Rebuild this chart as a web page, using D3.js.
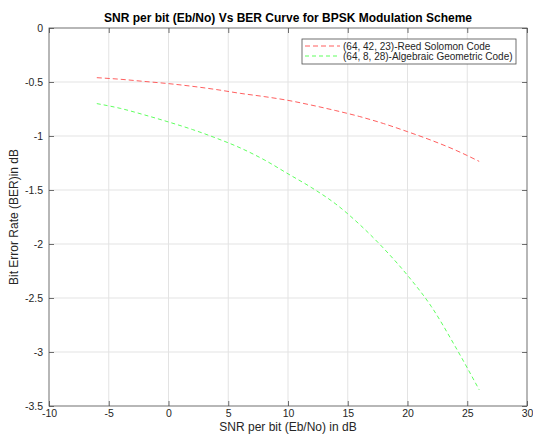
<!DOCTYPE html>
<html><head><meta charset="utf-8">
<script src="https://cdn.jsdelivr.net/npm/d3@7"></script>
<style>body{margin:0;background:#fff}svg{display:block}text{font-family:"Liberation Sans",Arial,Helvetica,sans-serif}</style>
</head><body><svg id="c" width="533" height="434"></svg>
<script>
const snr = [-6,-4,-2,0,2,4,6,8,10,12,14,16,18,20,22,24,26];
const berRS = [-0.46,-0.475,-0.495,-0.515,-0.54,-0.57,-0.605,-0.635,-0.67,-0.715,-0.765,-0.82,-0.885,-0.96,-1.04,-1.13,-1.235];
const berAG = [-0.70,-0.745,-0.805,-0.87,-0.94,-1.02,-1.11,-1.22,-1.35,-1.48,-1.63,-1.82,-2.04,-2.29,-2.58,-2.95,-3.35];
const xTicks = [-10,-5,0,5,10,15,20,25,30];
const yTicks = [0,-0.5,-1,-1.5,-2,-2.5,-3,-3.5];
const seriesNames = ["(64, 42, 23)-Reed Solomon Code","(64, 8, 28)-Algebraic Geometric Code)"];
const titleText = "SNR per bit (Eb/No) Vs BER Curve for BPSK Modulation Scheme";
const xLabel = "SNR per bit (Eb/No) in dB";
const yLabel = "Bit Error Rate (BER)in dB";

const L=49,R=527,T=28,B=406;
const svg=d3.select("#c");
const x=d3.scaleLinear().domain([-10,30]).range([L,R]);
const y=d3.scaleLinear().domain([-3.5,0]).range([B,T]);
const axisCol="#4d4d4d", textCol="#262626";

// grid
const g=svg.append("g");
g.selectAll(".gx").data(xTicks.slice(1,-1)).enter().append("line")
 .attr("x1",d=>x(d)).attr("x2",d=>x(d)).attr("y1",T).attr("y2",B)
 .attr("stroke","#e3e3e3").attr("stroke-width",1);
g.selectAll(".gy").data(yTicks.slice(1,-1)).enter().append("line")
 .attr("y1",d=>y(d)).attr("y2",d=>y(d)).attr("x1",L).attr("x2",R)
 .attr("stroke","#e3e3e3").attr("stroke-width",1);

// axes
function styleAxis(sel){
  sel.select(".domain").remove();
  sel.selectAll(".tick line").attr("stroke",axisCol).attr("stroke-width",0.8);
  sel.selectAll(".tick text").attr("fill",textCol).style("font-size","10.5px");
}
svg.append("g").attr("transform",`translate(0,${B})`)
 .call(d3.axisBottom(x).tickValues(xTicks).tickSize(-5).tickPadding(4).tickFormat(d=>String(d)))
 .call(styleAxis);
svg.append("g").attr("transform",`translate(0,${T})`)
 .call(d3.axisTop(x).tickValues(xTicks).tickSize(-5).tickFormat(""))
 .call(styleAxis);
svg.append("g").attr("transform",`translate(${L},0)`)
 .call(d3.axisLeft(y).tickValues(yTicks).tickSize(-5).tickPadding(6).tickFormat(d=>String(d)))
 .call(styleAxis);
svg.append("g").attr("transform",`translate(${R},0)`)
 .call(d3.axisRight(y).tickValues(yTicks).tickSize(-5).tickFormat(""))
 .call(styleAxis);
svg.append("rect").attr("x",L).attr("y",T).attr("width",R-L).attr("height",B-T)
 .attr("fill","none").attr("stroke",axisCol).attr("stroke-width",0.8);

// lines
const line=d3.line().x(d=>x(d[0])).y(d=>y(d[1])).curve(d3.curveMonotoneX);
const colors=["#ff4d4d","#4dff4d"];
const dashes=["5,3","4,3"];
[berRS,berAG].forEach((s,i)=>{
  svg.append("path").datum(snr.map((v,j)=>[v,s[j]]))
   .attr("d",line).attr("fill","none").attr("stroke",colors[i])
   .attr("stroke-width",0.9).attr("stroke-dasharray",dashes[i]);
});

// legend
const lg=svg.append("g");
lg.append("rect").attr("x",302).attr("y",39).attr("width",214).attr("height",25)
 .attr("fill","#fff").attr("stroke",axisCol).attr("stroke-width",0.8);
seriesNames.forEach((n,i)=>{
  const yy=46+i*10;
  lg.append("line").attr("x1",305).attr("x2",340).attr("y1",yy).attr("y2",yy)
   .attr("stroke",colors[i]).attr("stroke-width",0.9).attr("stroke-dasharray",dashes[i]);
  lg.append("text").attr("x",343).attr("y",yy+3.6).attr("fill",textCol)
   .style("font-size","10px").text(n);
});

// titles
svg.append("text").attr("x",(L+R)/2).attr("y",22).attr("text-anchor","middle")
 .attr("fill","#000").style("font-size","12px").style("font-weight","bold").text(titleText);
svg.append("text").attr("x",(L+R)/2).attr("y",431).attr("text-anchor","middle")
 .attr("fill",textCol).style("font-size","12px").text(xLabel);
svg.append("text").attr("transform",`translate(18,${(T+B)/2}) rotate(-90)`).attr("text-anchor","middle")
 .attr("fill",textCol).style("font-size","12px").text(yLabel);
</script></body></html>
